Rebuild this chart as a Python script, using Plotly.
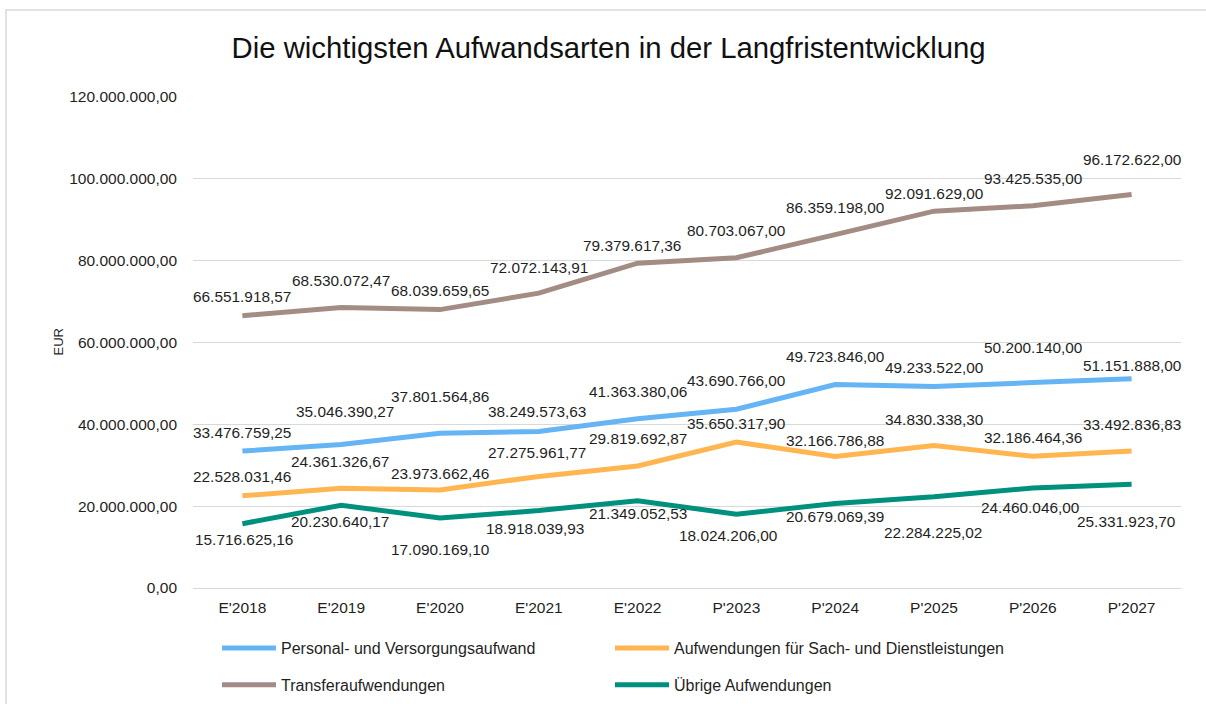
import plotly.graph_objects as go

categories = ["E'2018", "E'2019", "E'2020", "E'2021", "E'2022",
              "P'2023", "P'2024", "P'2025", "P'2026", "P'2027"]

personal = [33476759.25, 35046390.27, 37801564.86, 38249573.63, 41363380.06,
            43690766.00, 49723846.00, 49233522.00, 50200140.00, 51151888.00]
sach = [22528031.46, 24361326.67, 23973662.46, 27275961.77, 29819692.87,
        35650317.90, 32166786.88, 34830338.30, 32186464.36, 33492836.83]
transfer = [66551918.57, 68530072.47, 68039659.65, 72072143.91, 79379617.36,
            80703067.00, 86359198.00, 92091629.00, 93425535.00, 96172622.00]
uebrige = [15716625.16, 20230640.17, 17090169.10, 18918039.93, 21349052.53,
           18024206.00, 20679069.39, 22284225.02, 24460046.00, 25331923.70]

y_ticks = [0, 20e6, 40e6, 60e6, 80e6, 100e6, 120e6]

# label offsets in pixels (dx right, dy down) relative to the point
off_personal = [(0, -19), (4, -33), (0, -37), (-2, -20), (0, -27),
                (0, -29), (0, -28), (0, -19), (0, -35), (0, -13)]
off_sach = [(0, -19), (-1, -27), (0, -16), (-2, -24), (0, -27),
            (0, -19), (0, -16), (0, -26), (0, -19), (0, -26)]
off_transfer = [(0, -19), (0, -27), (0, -19), (0, -26), (-6, -18),
                (0, -27), (0, -27), (0, -18), (0, -27), (0, -35)]
off_uebrige = [(2, 16), (-1, 16), (0, 31), (-4, 18), (0, 13),
               (-8, 21), (0, 13), (-1, 36), (-3, 20), (-6, 37)]


def de(v):
    s = f"{v:,.2f}"
    return s.replace(",", "X").replace(".", ",").replace("X", ".")


FONT = "Liberation Sans, Arial, sans-serif"
TXT = "#1f1f1f"

series = [
    ("Personal- und Versorgungsaufwand", personal, "#65B4F4", off_personal, "legend", "g1"),
    ("Aufwendungen für Sach- und Dienstleistungen", sach, "#FFB650", off_sach, "legend2", "g3"),
    ("Transferaufwendungen", transfer, "#A38C83", off_transfer, "legend", "g2"),
    ("Übrige Aufwendungen", uebrige, "#00917E", off_uebrige, "legend2", "g4"),
]

fig = go.Figure()
annotations = []
for name, vals, color, offs, leg, grp in series:
    fig.add_trace(go.Scatter(
        x=categories, y=vals, mode="lines", name=name,
        line=dict(color=color, width=5),
        legend=leg, legendgroup=grp,
        hoverinfo="skip",
    ))
    for c, v, (dx, dy) in zip(categories, vals, offs):
        annotations.append(dict(
            x=c, y=v, xref="x", yref="y", text=de(v), showarrow=False,
            xanchor="center", yanchor="middle", xshift=dx, yshift=-dy,
            font=dict(family=FONT, size=15.4, color=TXT),
        ))

annotations.append(dict(
    x=(58 - 193) / 988, y=0.5, xref="paper", yref="paper", text="EUR",
    textangle=-90, showarrow=False, xanchor="center", yanchor="middle",
    font=dict(family=FONT, size=13, color=TXT),
))

LEG_Y = (588 - 631) / 491

fig.update_layout(
    width=1206, height=704,
    margin=dict(l=193, r=25, t=97, b=116, autoexpand=False),
    paper_bgcolor="white", plot_bgcolor="white",
    font=dict(family=FONT, size=15.5, color=TXT),
    title=dict(text="Die wichtigsten Aufwandsarten in der Langfristentwicklung",
               x=608.6 / 1206, xanchor="center", xref="container",
               y=1 - 48 / 704, yanchor="middle", yref="container",
               font=dict(family=FONT, size=29.3, color="#111111")),
    xaxis=dict(type="category", range=[-0.5, 9.5], showgrid=False,
               showline=False, zeroline=False, ticks="", ticklabelstandoff=8,
               tickfont=dict(family=FONT, size=15.5, color=TXT)),
    yaxis=dict(range=[0, 120e6], tickvals=y_ticks,
               ticktext=[de(v) for v in y_ticks],
               showgrid=True, gridcolor="#D9D9D9", gridwidth=1.3,
               zeroline=True, zerolinecolor="#D9D9D9", zerolinewidth=1.3,
               showline=False, ticks="", ticklabelstandoff=15,
               tickfont=dict(family=FONT, size=15.5, color=TXT)),
    legend=dict(orientation="v", x=(222 - 193 - 5) / 988, xanchor="left",
                y=LEG_Y, yanchor="top", tracegroupgap=13,
                itemwidth=54, font=dict(family=FONT, size=16, color=TXT),
                bgcolor="rgba(0,0,0,0)"),
    legend2=dict(orientation="v", x=(615 - 193 - 5) / 988, xanchor="left",
                 y=LEG_Y, yanchor="top", tracegroupgap=13,
                 itemwidth=54, font=dict(family=FONT, size=16, color=TXT),
                 bgcolor="rgba(0,0,0,0)"),
    annotations=annotations,
    shapes=[dict(type="rect", xref="paper", yref="paper",
                 x0=(6 - 193) / 988, x1=(1212 - 193) / 988,
                 y0=(588 - 712) / 491, y1=(588 - 10) / 491,
                 line=dict(color="#D9D9D9", width=1.5), layer="below")],
)

fig.write_html("out.html",
               config={"displayModeBar": False},
               post_script="document.body.style.margin='0';"
                           "document.body.style.overflow='hidden';")
